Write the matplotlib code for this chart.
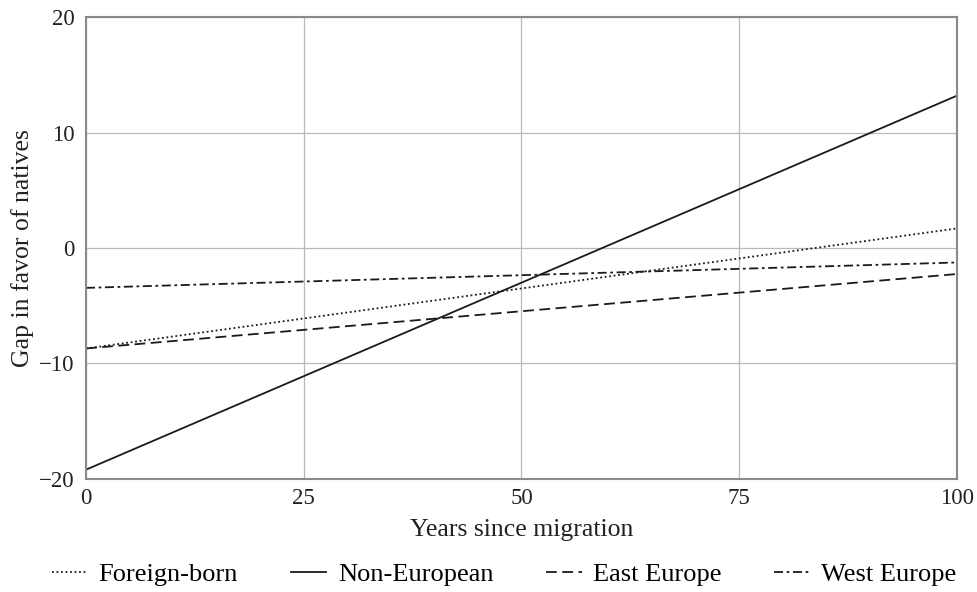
import matplotlib
matplotlib.use("Agg")
import matplotlib.pyplot as plt

# endpoints of fitted lines (years since migration -> gap)
years = [0, 100]
foreign_born = [-8.7, 1.7]
non_european = [-19.2, 13.2]
east_europe = [-8.7, -2.25]
west_europe = [-3.45, -1.25]

series = [
    ("Foreign-born", foreign_born, (0, (1, 1.5))),
    ("Non-European", non_european, "-"),
    ("East Europe", east_europe, (0, (6, 3))),
    ("West Europe", west_europe, (0, (5, 2, 1.5, 2))),
]

plt.rcParams["font.family"] = ["Liberation Serif", "DejaVu Serif"]

fig = plt.figure(figsize=(9.77, 5.92), dpi=100)
ax = fig.add_axes([0.088, 0.191, 0.8915, 0.78])

for label, vals, ls in series:
    ax.plot(years, vals, color="#1a1a1a", linestyle=ls, linewidth=1.3, label=label)

ax.set_xlim(0, 100)
ax.set_ylim(-20, 20)
ax.set_xticks([0, 25, 50, 75, 100])
ax.set_yticks([-20, -10, 0, 10, 20])
ax.set_yticklabels(["\u221220", "\u221210", "0", "10", "20"])
ax.grid(color="#b8b8b8", linewidth=0.9)
ax.set_axisbelow(True)
ax.tick_params(axis="x", length=0, pad=6.5, labelsize=16.5, colors="#222222")
ax.tick_params(axis="y", length=0, pad=8, labelsize=16.5, colors="#222222")
for sp in ax.spines.values():
    sp.set_color("#8a8a8a")
    sp.set_linewidth(1.5)

ax.set_xlabel("Years since migration", fontsize=18.5, color="#222222", labelpad=7)
ax.set_ylabel("Gap in favor of natives", fontsize=18.5, color="#222222", labelpad=4)

fig.legend(loc="lower center", bbox_to_anchor=(0.516, -0.03), ncol=4, frameon=False,
           fontsize=19, handlelength=1.35, handletextpad=0.43, columnspacing=2.0)

fig.savefig("out.png", dpi=100)
